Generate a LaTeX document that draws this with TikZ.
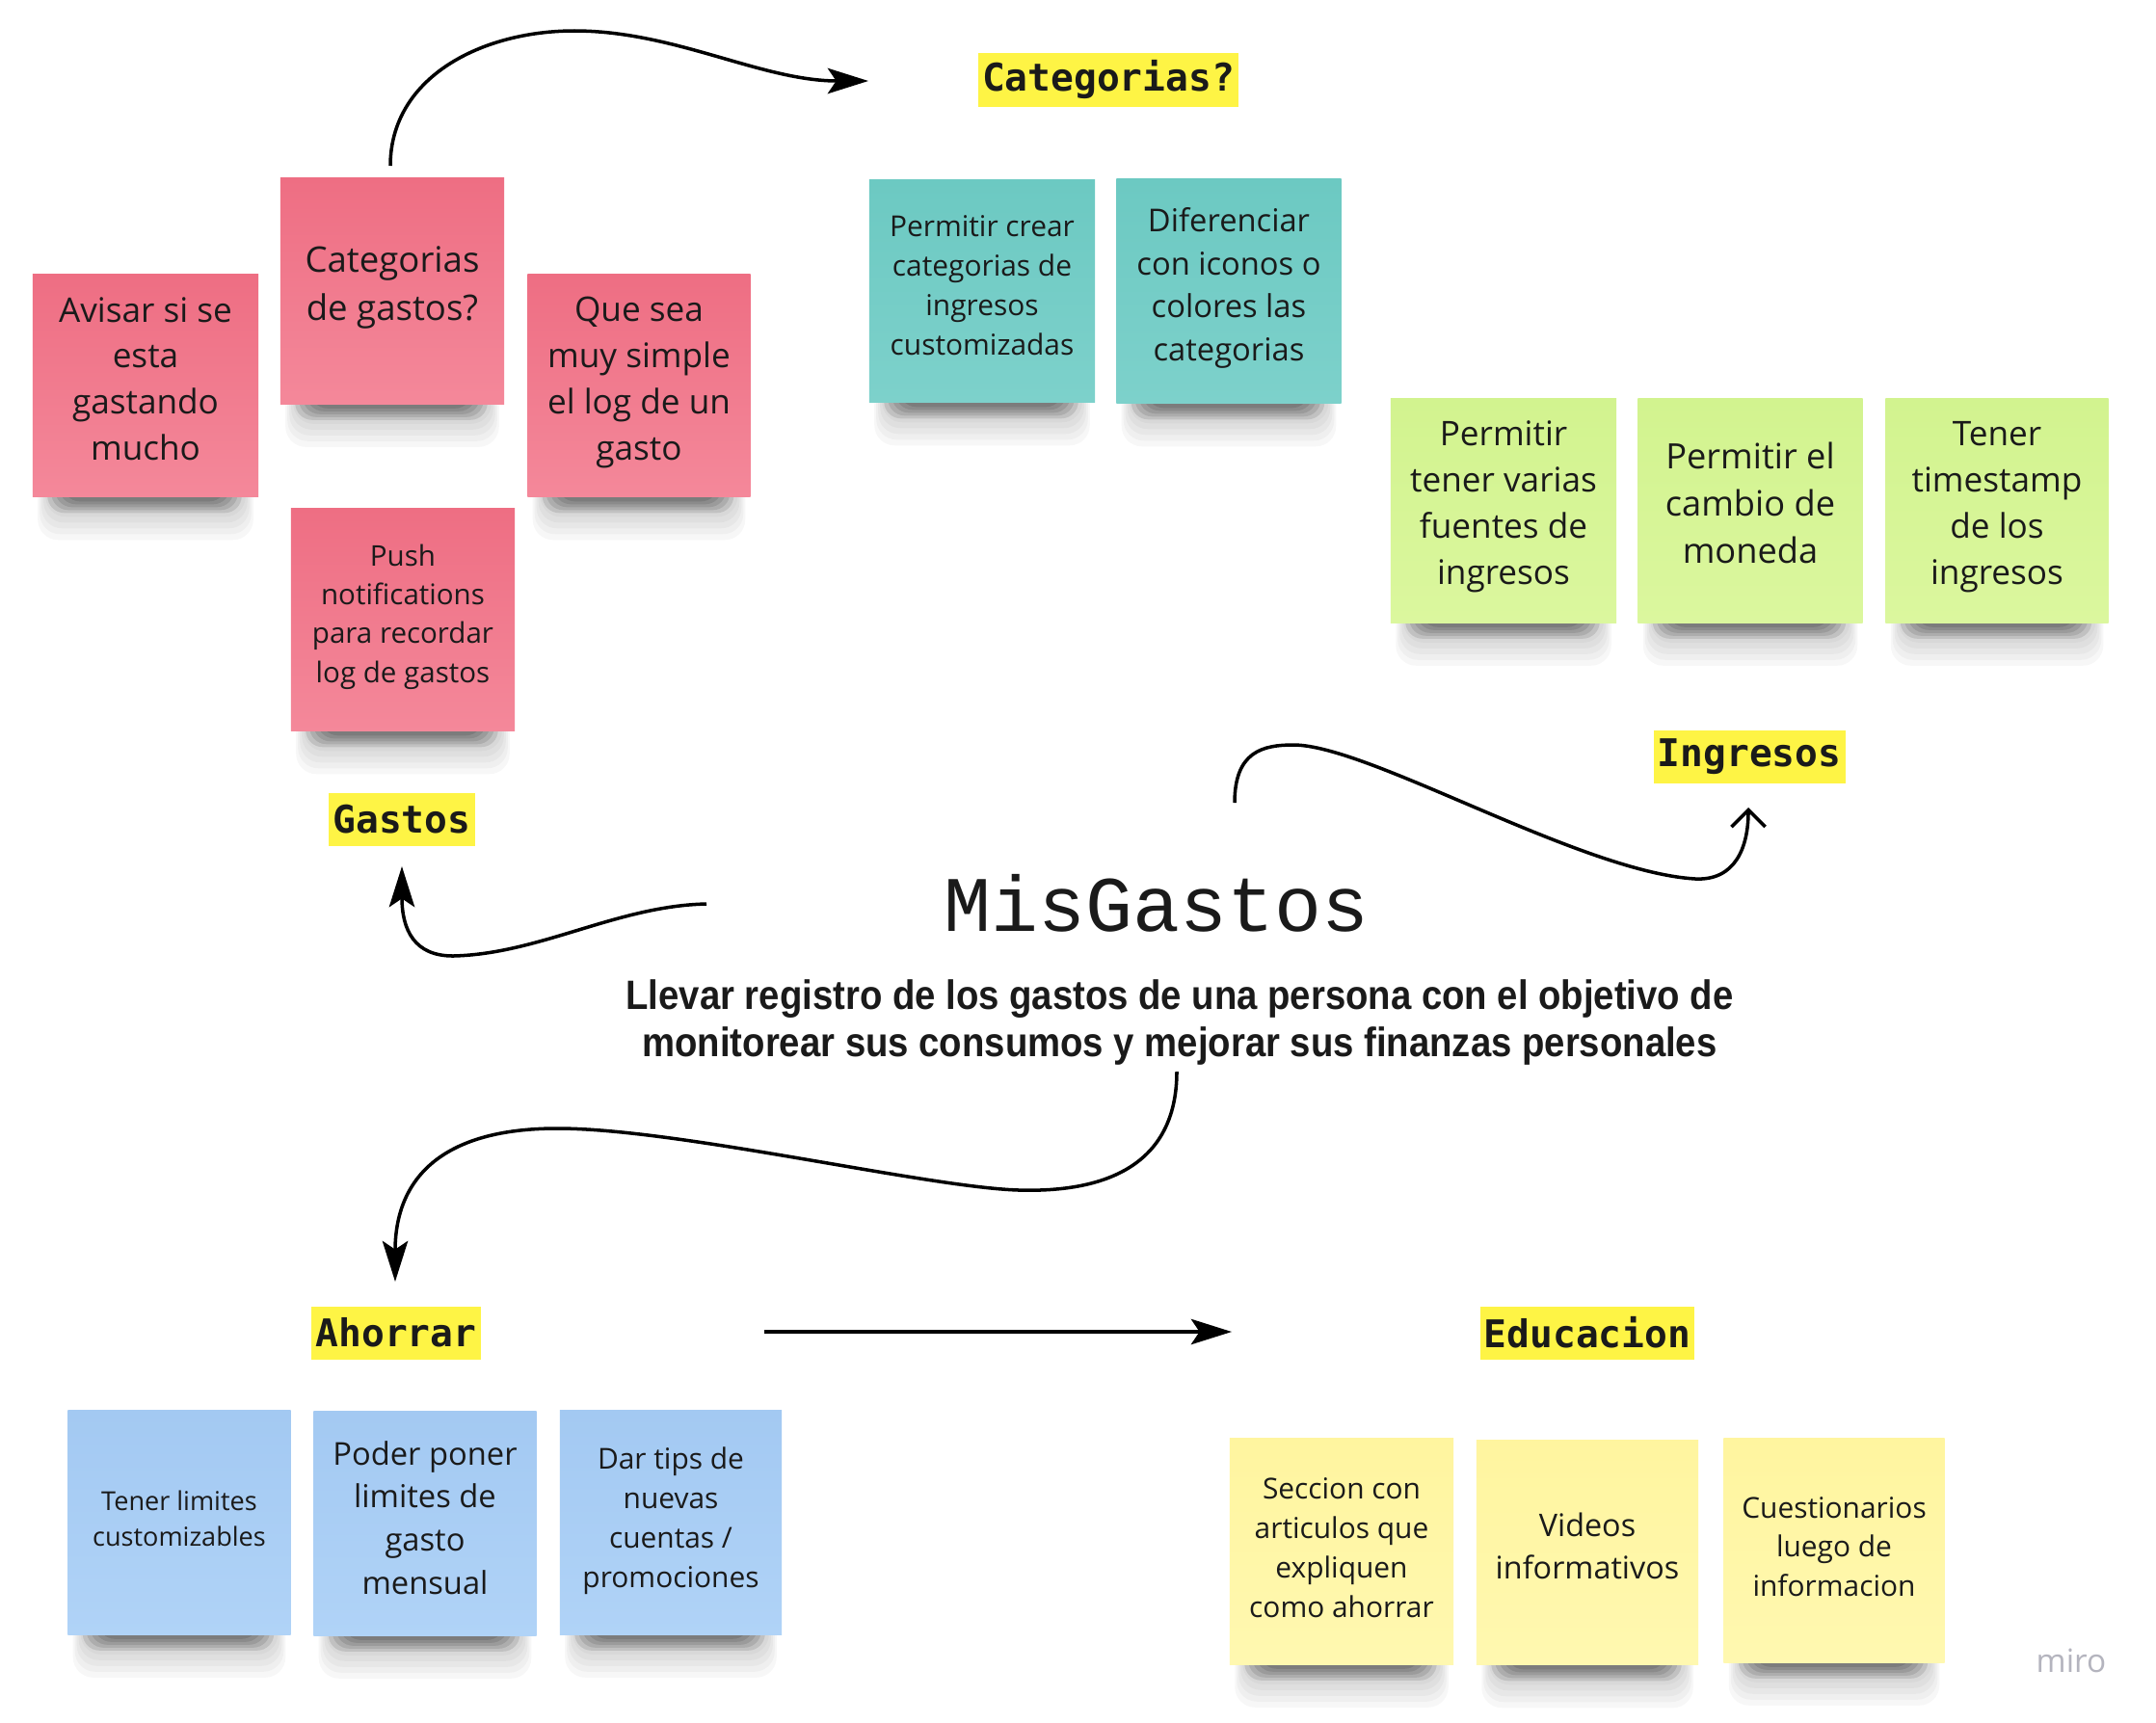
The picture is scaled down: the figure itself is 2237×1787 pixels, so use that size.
\documentclass[tikz,border=0pt]{standalone}
\usepackage{fontspec}
\setmainfont{Open Sans}
\newfontfamily\labelfont{DejaVu Sans Mono}
\newfontfamily\titlefont{Liberation Mono}
\newfontfamily\subfont{Liberation Sans}[FakeStretch=0.9]
\usetikzlibrary{arrows.meta,backgrounds,calc}

\definecolor{ink}{HTML}{1A1A1A}
\definecolor{hl}{HTML}{FEF445}
\definecolor{pinkT}{HTML}{EE6E83}
\definecolor{pinkB}{HTML}{F4889A}
\definecolor{tealT}{HTML}{6CC9C2}
\definecolor{tealB}{HTML}{7DD1CB}
\definecolor{greenT}{HTML}{D2F38F}
\definecolor{greenB}{HTML}{DBF79E}
\definecolor{blueT}{HTML}{A3C9F2}
\definecolor{blueB}{HTML}{B0D3F7}
\definecolor{yelT}{HTML}{FFF59F}
\definecolor{yelB}{HTML}{FFF8B0}
\definecolor{mirogray}{HTML}{B4B4BE}

\newcommand\stickyshadow[1]{%
  \foreach \k in {0,...,4}{%
    \fill[black,opacity=0.03,rounded corners=6pt]
      ($(#1.south west)+(14-2*\k,20+6*\k)$) rectangle ($(#1.south east)+(-14+2*\k,-30)$);
  }%
  \foreach \k in {0,...,4}{%
    \fill[black,opacity=0.1,rounded corners=5pt]
      ($(#1.south west)+(32-4*\k,4+3*\k)$) rectangle ($(#1.south east)+(-34+4*\k,-30)$);
  }}

\tikzset{
  stickynote/.style={minimum width=2.32cm, minimum height=2.32cm, inner sep=0pt},
  notetext/.style={align=center, text=ink, inner sep=0pt},
  pinknote/.style={stickynote, top color=pinkT, bottom color=pinkB},
  tealnote/.style={stickynote, top color=tealT, bottom color=tealB},
  greennote/.style={stickynote, top color=greenT, bottom color=greenB},
  bluenote/.style={stickynote, top color=blueT, bottom color=blueB},
  yelnote/.style={stickynote, top color=yelT, bottom color=yelB},
  hlbox/.style={fill=hl, text=ink, font=\labelfont\bfseries\fontsize{11.25}{13}\selectfont,
    inner xsep=1.2pt, inner ysep=0pt, minimum height=0.55cm},
  fs/.style n args={2}{font=\fontsize{#1}{#2}\selectfont},
  arr/.style={line width=1pt, draw=black, -{Stealth[length=12pt,width=7.5pt,inset=2.5pt]}},
  barb/.style={line width=1pt, draw=black, -{Straight Barb[length=5pt,width=10pt]}},
}

\begin{document}
\begin{tikzpicture}[x=0.01cm,y=-0.01cm]
\begin{scope}[on background layer]
  \fill[white] (0,0) rectangle (2237,1787);
\end{scope}
\useasboundingbox (0,0) rectangle (2237,1787);

% Gastos notes
\node[pinknote, minimum width=2.34cm, minimum height=2.31cm] (avisar) at (151,400) {};
\node[pinknote, minimum height=2.34cm] (catg) at (407,302) {};
\node[pinknote, minimum width=2.31cm, minimum height=2.31cm] (quesea) at (663,400) {};
\node[pinknote, minimum height=2.31cm] (push) at (418,643) {};
\node[notetext, fs={10}{13.6}] (avisarT) at ($(avisar)+(0,-7)$) {Avisar si se\\esta\\gastando\\mucho};
\node[notetext, fs={10.4}{14.2}] (catgT) at ($(catg)+(0,-4)$) {Categorias\\de gastos?};
\node[notetext, fs={10}{13.7}] (queseaT) at ($(quesea)+(0,-3)$) {Que sea\\muy simple\\el log de un\\gasto};
\node[notetext, fs={8.4}{11.5}] (pushT) at ($(push)+(0,-3)$) {Push\\notifications\\para recordar\\log de gastos};

% Categorias notes
\node[tealnote, minimum width=2.34cm, minimum height=2.31cm] (crear) at (1019,302) {};
\node[tealnote, minimum width=2.33cm, minimum height=2.33cm] (difer) at (1275,302) {};
\node[notetext, fs={8.5}{11.7}] (crearT) at ($(crear)+(0,-6)$) {Permitir crear\\categorias de\\ingresos\\customizadas};
\node[notetext, fs={9.3}{12.7}] (diferT) at ($(difer)+(0,-3)$) {Diferenciar\\con iconos o\\colores las\\categorias};

% Ingresos notes
\node[greennote, minimum width=2.34cm] (varias) at (1560,530) {};
\node[greennote, minimum width=2.33cm] (cambio) at (1816,530) {};
\node[greennote, minimum width=2.31cm] (stamp) at (2072,530) {};
\node[notetext, fs={10}{13.7}] (variasT) at ($(varias)+(0,-4)$) {Permitir\\tener varias\\fuentes de\\ingresos};
\node[notetext, fs={10.3}{14}] (cambioT) at ($(cambio)+(0,-8)$) {Permitir el\\cambio de\\moneda};
\node[notetext, fs={10}{13.7}] (stampT) at ($(stamp)+(0,-4)$) {Tener\\timestamp\\de los\\ingresos};

% Ahorrar notes
\node[bluenote, minimum width=2.31cm] (limites) at (186,1580) {};
\node[bluenote, minimum width=2.31cm] (poder) at (441,1581) {};
\node[bluenote, minimum width=2.30cm] (tips) at (696,1580) {};
\node[notetext, fs={7.7}{10.6}] (limitesT) at ($(limites)+(0,-4)$) {Tener limites\\customizables};
\node[notetext, fs={9.3}{12.7}] (poderT) at ($(poder)+(0,-6)$) {Poder poner\\limites de\\gasto\\mensual};
\node[notetext, fs={8.5}{11.7}] (tipsT) at ($(tips)+(0,-2)$) {Dar tips de\\nuevas\\cuentas /\\promociones};

% Educacion notes
\node[yelnote, minimum height=2.34cm] (seccion) at (1392,1610) {};
\node[yelnote, minimum width=2.30cm, minimum height=2.33cm] (videos) at (1647,1611) {};
\node[yelnote, minimum width=2.29cm] (cuest) at (1903,1609) {};
\node[notetext, fs={8.5}{11.6}] (seccionT) at ($(seccion)+(0,-4)$) {Seccion con\\articulos que\\expliquen\\como ahorrar};
\node[notetext, fs={9.2}{12.6}] (videosT) at ($(videos)+(0,-7)$) {Videos\\informativos};
\node[notetext, fs={8.5}{11.6}] (cuestT) at ($(cuest)+(0,-4)$) {Cuestionarios\\luego de\\informacion};

\begin{scope}[on background layer]
  \foreach \n in {avisar,catg,quesea,push,crear,difer,varias,cambio,stamp,limites,poder,tips,seccion,videos,cuest}{\stickyshadow{\n}}
\end{scope}

% section labels
\node[hlbox] (lcat) at (1150,83) {Categorias?};
\node[hlbox] (lgas) at (417,850) {Gastos};
\node[hlbox] (ling) at (1815,785) {Ingresos};
\node[hlbox] (laho) at (411,1383) {Ahorrar};
\node[hlbox] (ledu) at (1647,1383) {Educacion};

% title and subtitle
\node[font=\titlefont\fontsize{23.2}{28}\selectfont, text=ink, anchor=base, inner sep=0pt] (title) at (1200,966) {MisGastos};
\node[font=\subfont\bfseries\fontsize{12.1}{14.2}\selectfont, text=ink, align=center, inner sep=0pt] (sub) at (1224,1061)
  {Llevar registro de los gastos de una persona con el objetivo de\\monitorear sus consumos y mejorar sus finanzas personales};

\node[font=\fontsize{9.5}{11}\selectfont, text=mirogray, anchor=base, inner sep=0pt] (miro) at (2149,1735) {miro};

% connector ends
\coordinate (a1) at (405,172);
\coordinate (a2) at (901,84);
\coordinate (b1) at (733,938);
\coordinate (b2) at (417,899);
\coordinate (c1) at (1281,833);
\coordinate (c2) at (1814,838);
\coordinate (d1) at (1221,1112);
\coordinate (d2) at (410,1330);
\coordinate (e1) at (793,1382);
\coordinate (e2) at (1278,1382);

% connectors
\draw[arr] (a1) .. controls (405,80) and (500,32) .. (596,32) .. controls (700,32) and (790,84) .. (a2);
\draw[arr] (b1) .. controls (640,940) and (560,990) .. (470,992) .. controls (430,992) and (417,965) .. (b2);
\draw[barb] (c1) .. controls (1281,780) and (1310,773) .. (1342,773) .. controls (1420,773) and (1640,905) .. (1759,912) .. controls (1800,914) and (1814,880) .. (c2);
\draw[arr] (d1) .. controls (1221,1200) and (1160,1238) .. (1057,1235) .. controls (960,1232) and (700,1170) .. (575,1171) .. controls (450,1172) and (410,1230) .. (d2);
\draw[arr] (e1) -- (e2);
\end{tikzpicture}
\end{document}
